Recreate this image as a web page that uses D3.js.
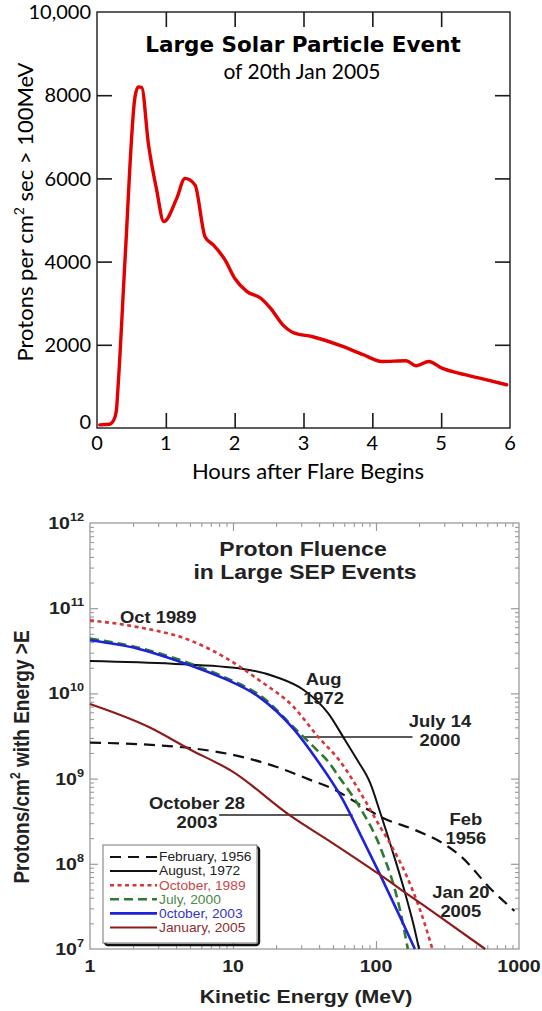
<!DOCTYPE html>
<html>
<head>
<meta charset="utf-8">
<script src="https://cdn.jsdelivr.net/npm/d3@7"></script>
<style>
body { margin: 0; background: #fff; }
svg { display: block; }
</style>
</head>
<body>
<div class="container"></div>
<script>
// --- top chart: proton rate over time, 20 Jan 2005 ---
var hours = [0.04, 0.18, 0.24, 0.28, 0.31, 0.407, 0.552, 0.60, 0.649, 0.746, 0.867, 0.97, 1.158, 1.278, 1.424, 1.569, 1.69, 1.86, 2.0, 2.18, 2.38, 2.52, 2.70, 2.87, 3.12, 3.57, 3.87, 4.14, 4.49, 4.64, 4.82, 5.01, 5.21, 5.56, 5.95];
var protonRate = [75, 90, 180, 400, 1100, 4040, 7960, 8200, 8190, 6840, 5720, 4960, 5520, 6000, 5840, 4600, 4400, 4040, 3600, 3280, 3120, 2880, 2480, 2280, 2200, 1960, 1760, 1600, 1616, 1496, 1600, 1440, 1336, 1200, 1040];
var hourTicks = [0, 1, 2, 3, 4, 5, 6];
var rateTicks = [0, 2000, 4000, 6000, 8000, 10000];
var rateTickLabels = ['0', '2000', '4000', '6000', '8000', '10,000'];

// --- bottom chart: fluence spectra (energy in MeV, protons/cm2) ---
var feb1956Energy = [1, 2.85, 5.3, 11.5, 20, 35, 49, 81, 110, 187, 293, 387, 640, 930];
var feb1956Fluence = [2.65e9, 2.47e9, 2.26e9, 1.8e9, 1.38e9, 9.6e8, 7.7e8, 4.7e8, 3.5e8, 2.5e8, 1.74e8, 1.25e8, 5.0e7, 2.8e7];
var aug1972Energy = [1, 3.77, 11.5, 20, 31.4, 46.5, 61, 74, 91, 107, 134, 160, 182, 200];
var aug1972Fluence = [2.4e10, 2.23e10, 1.95e10, 1.56e10, 1.09e10, 5.8e9, 2.8e9, 1.65e9, 8.9e8, 4.0e8, 1.22e8, 4.5e7, 2.0e7, 1e7];
var oct1989Energy = [1, 2.16, 5, 8.7, 15.2, 26.6, 39.3, 56, 81, 107, 125, 165, 203, 248];
var oct1989Fluence = [7.2e10, 6.0e10, 4.2e10, 2.67e10, 1.43e10, 6.9e9, 3.1e9, 1.6e9, 6.1e8, 2.7e8, 1.75e8, 7.0e7, 2.9e7, 1e7];
var jul2000Energy = [1, 2.16, 5, 8.7, 16.1, 26.6, 39.3, 45.4, 55, 77, 107, 147, 167];
var jul2000Fluence = [4.4e10, 3.45e10, 2.25e10, 1.55e10, 9.0e9, 4.0e9, 2.1e9, 1.65e9, 1.05e9, 4.6e8, 1.57e8, 2.9e7, 1e7];
var oct2003Energy = [1, 2.16, 5, 8.7, 15.2, 26.6, 38.7, 58.8, 80, 107, 147, 187];
var oct2003Fluence = [4.2e10, 3.35e10, 2.14e10, 1.49e10, 9.1e9, 3.8e9, 1.65e9, 5.6e8, 2.0e8, 7.4e7, 2.4e7, 1e7];
var jan2005Energy = [1, 2.6, 5, 10, 25, 50, 107, 160, 300, 580];
var jan2005Fluence = [7.5e9, 4.0e9, 2.2e9, 1.2e9, 3.7e8, 1.74e8, 7.4e7, 4.6e7, 2.2e7, 1e7];
var legendNames = ['February, 1956', 'August, 1972', 'October, 1989', 'July, 2000', '0ctober, 2003', 'January, 2005'];
var energyTicks = [1, 10, 100, 1000];
var fluenceExponents = [7, 8, 9, 10, 11, 12];

// leader lines: [energy from, energy to] at one fluence
var july14Leader = {energy: [31.4, 180], fluence: 3.08e9};
var oct28Leader = {energy: [8.0, 68.7], fluence: 3.74e8};

const WIDTH = 542;
const HEIGHT = 1011;
const TOP = {left: 97, right: 510, top: 12, bottom: 428};
const BOT = {left: 90, right: 519, top: 523, bottom: 949};
const TOP_FONT = 'Lato, "Open Sans", sans-serif';
const BOT_FONT = '"Liberation Sans", Arial, Helvetica, sans-serif';
const STRETCH = 1.15;

var translate = function(x, y){
	return "translate(" + x + "," + y + ")";
};

var svg = d3.select('.container').append('svg')
	.attr('width', WIDTH)
	.attr('height', HEIGHT);

var tickRow = function(g, axisFn, scale, values, size, color, width){
	g.call(axisFn(scale).tickValues(values).tickSize(size).tickFormat(''));
	g.select('.domain').remove();
	g.selectAll('line').attr('stroke', color).attr('stroke-width', width);
};

// ================= top chart =================
var xTop = d3.scaleLinear().domain([0, 6]).range([TOP.left, TOP.right]);
var yTop = d3.scaleLinear().domain([0, 10000]).range([TOP.bottom, TOP.top]);

var topChart = svg.append('g');

topChart.append('rect')
	.attr('x', TOP.left).attr('y', TOP.top)
	.attr('width', TOP.right - TOP.left).attr('height', TOP.bottom - TOP.top)
	.attr('fill', 'none').attr('stroke', '#1a1a1a').attr('stroke-width', 1.4);

var innerHours = hourTicks.slice(1, -1);
var innerRates = rateTicks.slice(1, -1);
tickRow(topChart.append('g').attr('transform', translate(0, TOP.bottom)), d3.axisBottom, xTop, innerHours, -15, '#1a1a1a', 1.6);
tickRow(topChart.append('g').attr('transform', translate(0, TOP.top)), d3.axisTop, xTop, innerHours, -15, '#1a1a1a', 1.6);
tickRow(topChart.append('g').attr('transform', translate(TOP.left, 0)), d3.axisLeft, yTop, innerRates, -15, '#1a1a1a', 1.6);
tickRow(topChart.append('g').attr('transform', translate(TOP.right, 0)), d3.axisRight, yTop, innerRates, -15, '#1a1a1a', 1.6);

topChart.selectAll('.hour-label').data(hourTicks).enter().append('text')
	.attr('x', function(d){ return xTop(d); })
	.attr('y', 450)
	.attr('text-anchor', 'middle')
	.attr('font-family', TOP_FONT).attr('font-size', 20)
	.text(function(d){ return d; });

topChart.selectAll('.rate-label').data(rateTicks).enter().append('text')
	.attr('x', TOP.left - 6)
	.attr('y', function(d){ return yTop(d) - (d === 0 ? 6 : 0); })
	.attr('dy', '0.36em')
	.attr('text-anchor', 'end')
	.attr('font-family', TOP_FONT).attr('font-size', 20)
	.text(function(d, i){ return rateTickLabels[i]; });

topChart.append('path')
	.attr('d', d3.line()
		.x(function(d){ return xTop(d[0]); })
		.y(function(d){ return yTop(d[1]); })
		.curve(d3.curveMonotoneX)(d3.zip(hours, protonRate)))
	.attr('fill', 'none').attr('stroke', '#e30000').attr('stroke-width', 3.4)
	.attr('stroke-linejoin', 'round').attr('stroke-linecap', 'round');

topChart.append('text')
	.attr('x', 303).attr('y', 52).attr('text-anchor', 'middle')
	.attr('font-family', '"DejaVu Sans", sans-serif').attr('font-weight', 'bold').attr('font-size', 21.5)
	.text('Large Solar Particle Event');
topChart.append('text')
	.attr('x', 302).attr('y', 79).attr('text-anchor', 'middle')
	.attr('font-family', TOP_FONT).attr('font-size', 21)
	.text('of 20th Jan 2005');

topChart.append('text')
	.attr('x', 308).attr('y', 479).attr('text-anchor', 'middle')
	.attr('font-family', TOP_FONT).attr('font-size', 22)
	.text('Hours after Flare Begins');

var yTitle = topChart.append('text')
	.attr('transform', translate(33, 212) + ' rotate(-90)')
	.attr('text-anchor', 'middle')
	.attr('font-family', TOP_FONT).attr('font-size', 22);
yTitle.append('tspan').text('Protons per cm');
yTitle.append('tspan').attr('dy', -9).attr('font-size', 14).text('2');
yTitle.append('tspan').attr('dy', 9).text(' sec > 100MeV');

// ================= bottom chart =================
var xBot = d3.scaleLog().domain([1, 1000]).range([BOT.left, BOT.right]);
var yBot = d3.scaleLog().domain([1e7, 1e12]).range([BOT.bottom, BOT.top]);

var botChart = svg.append('g');

var isDecade = function(v){
	var l = Math.log10(v);
	return Math.abs(l - Math.round(l)) < 1e-6;
};
var xMinor = xBot.ticks().filter(function(v){ return !isDecade(v); });
var yMinor = yBot.ticks().filter(function(v){ return !isDecade(v); });
var xMajor = [10, 100];
var yMajor = [1e8, 1e9, 1e10, 1e11];

botChart.append('rect')
	.attr('x', BOT.left).attr('y', BOT.top)
	.attr('width', BOT.right - BOT.left).attr('height', BOT.bottom - BOT.top)
	.attr('fill', 'none').attr('stroke', '#9a9a9a').attr('stroke-width', 1.3);

[[d3.axisBottom, BOT.bottom], [d3.axisTop, BOT.top]].forEach(function(a){
	tickRow(botChart.append('g').attr('transform', translate(0, a[1])), a[0], xBot, xMinor, -4, '#9a9a9a', 1.1);
	tickRow(botChart.append('g').attr('transform', translate(0, a[1])), a[0], xBot, xMajor, -8, '#9a9a9a', 1.2);
});
[[d3.axisLeft, BOT.left], [d3.axisRight, BOT.right]].forEach(function(a){
	tickRow(botChart.append('g').attr('transform', translate(a[1], 0)), a[0], yBot, yMinor, -4, '#9a9a9a', 1.1);
	tickRow(botChart.append('g').attr('transform', translate(a[1], 0)), a[0], yBot, yMajor, -8, '#9a9a9a', 1.2);
});

var stretchedText = function(g, x, y, size){
	return g.append('text')
		.attr('transform', translate(x, y) + ' scale(' + STRETCH + ',1)')
		.attr('font-family', BOT_FONT).attr('font-weight', 'bold').attr('font-size', size)
		.attr('fill', '#222');
};

energyTicks.forEach(function(e){
	stretchedText(botChart, xBot(e), 972, 17).attr('text-anchor', 'middle').text(e);
});
fluenceExponents.forEach(function(p){
	var t = stretchedText(botChart, 84, yBot(Math.pow(10, p)) + 6, 17).attr('text-anchor', 'end');
	t.append('tspan').text('10');
	t.append('tspan').attr('dy', -8).attr('font-size', 11).text(p);
});

stretchedText(botChart, 303, 556, 20).attr('text-anchor', 'middle').text('Proton Fluence');
stretchedText(botChart, 305, 579, 20).attr('text-anchor', 'middle').text('in Large SEP Events');
stretchedText(botChart, 306, 1003, 18.5).attr('text-anchor', 'middle').text('Kinetic Energy (MeV)');

var botTitle = botChart.append('text')
	.attr('transform', translate(29, 757) + ' scale(' + STRETCH + ',1) rotate(-90)')
	.attr('text-anchor', 'middle')
	.attr('font-family', BOT_FONT).attr('font-weight', 'bold').attr('font-size', 19)
	.attr('fill', '#222');
botTitle.append('tspan').text('Protons/cm');
botTitle.append('tspan').attr('dy', -8).attr('font-size', 12).text('2');
botTitle.append('tspan').attr('dy', 8).text(' with Energy >E');

var events = [
	{energy: feb1956Energy, fluence: feb1956Fluence, color: '#111111', text: '#222222', dash: '11,7', width: 2.2},
	{energy: aug1972Energy, fluence: aug1972Fluence, color: '#111111', text: '#222222', dash: null, width: 2},
	{energy: oct1989Energy, fluence: oct1989Fluence, color: '#d53636', text: '#c84848', dash: '4,3.5', width: 2.6},
	{energy: jul2000Energy, fluence: jul2000Fluence, color: '#2e7a2e', text: '#4a8a4a', dash: '9,5', width: 2.6},
	{energy: oct2003Energy, fluence: oct2003Fluence, color: '#1f22d8', text: '#3535c8', dash: null, width: 2.6},
	{energy: jan2005Energy, fluence: jan2005Fluence, color: '#8c1c1c', text: '#8c3030', dash: null, width: 2.2}
];

var spectrum = d3.line()
	.x(function(d){ return xBot(d[0]); })
	.y(function(d){ return yBot(d[1]); })
	.curve(d3.curveMonotoneX);

// leader lines sit under the curves
[july14Leader, oct28Leader].forEach(function(l){
	botChart.append('line')
		.attr('x1', xBot(l.energy[0])).attr('x2', xBot(l.energy[1]))
		.attr('y1', yBot(l.fluence)).attr('y2', yBot(l.fluence))
		.attr('stroke', '#222').attr('stroke-width', 1.6);
});

botChart.selectAll('.spectrum').data(events).enter().append('path')
	.attr('class', 'spectrum')
	.attr('d', function(ev){ return spectrum(d3.zip(ev.energy, ev.fluence)); })
	.attr('fill', 'none')
	.attr('stroke', function(ev){ return ev.color; })
	.attr('stroke-width', function(ev){ return ev.width; })
	.attr('stroke-dasharray', function(ev){ return ev.dash; });

var annotations = [
	{lines: ['Oct 1989'], energy: 3.0, fluence: 6.7e10},
	{lines: ['Aug', '1972'], energy: 43, fluence: 1.26e10},
	{lines: ['July 14', '2000'], energy: 280, fluence: 4.0e9},
	{lines: ['October 28', '2003'], energy: 5.6, fluence: 4.4e8},
	{lines: ['Feb', '1956'], energy: 425, fluence: 2.85e8},
	{lines: ['Jan 20', '2005'], energy: 392, fluence: 4.0e7}
];
annotations.forEach(function(a){
	a.lines.forEach(function(txt, i){
		stretchedText(botChart, xBot(a.energy), yBot(a.fluence) + i * 19, 16)
			.attr('text-anchor', 'middle').text(txt);
	});
});

// legend
var legend = botChart.append('g').attr('transform', translate(103, 845));
legend.append('rect')
	.attr('x', 2).attr('y', 2).attr('width', 154).attr('height', 98).attr('rx', 3)
	.attr('fill', 'none').attr('stroke', '#111').attr('stroke-width', 2.4);
legend.append('rect')
	.attr('x', 0).attr('y', 0).attr('width', 154).attr('height', 98)
	.attr('fill', '#fff').attr('stroke', '#777').attr('stroke-width', 1);

var rows = legend.selectAll('.row').data(events).enter().append('g')
	.attr('transform', function(ev, i){ return translate(0, 12 + i * 14.1); });
rows.append('line')
	.attr('x1', 7).attr('x2', 54).attr('y1', 0).attr('y2', 0)
	.attr('stroke', function(ev){ return ev.color; })
	.attr('stroke-width', function(ev){ return ev.width; })
	.attr('stroke-dasharray', function(ev){ return ev.dash; });
rows.append('text')
	.attr('transform', translate(56, 4.3) + ' scale(' + STRETCH + ',1)')
	.attr('font-family', BOT_FONT).attr('font-size', 12)
	.attr('fill', function(ev){ return ev.text; })
	.text(function(ev, i){ return legendNames[i]; });
</script>
</body>
</html>
